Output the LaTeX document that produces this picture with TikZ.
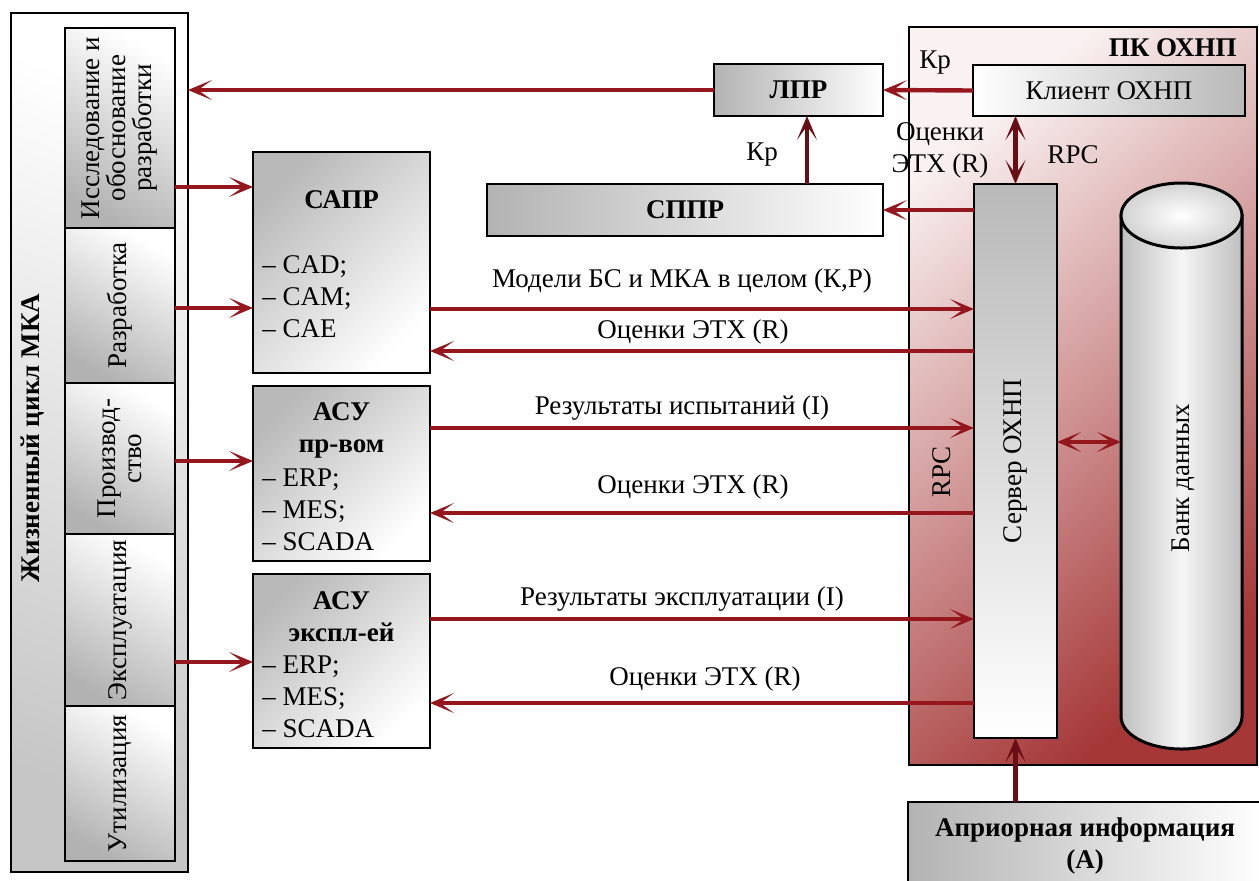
\documentclass[tikz,border=0pt]{standalone}
\usepackage{fontspec}
\setmainfont{Liberation Serif}
\usetikzlibrary{arrows.meta, positioning}
\definecolor{arrowred}{RGB}{150,22,30}
\definecolor{arrowdark}{RGB}{105,14,20}
\definecolor{pklight}{RGB}{250,242,242}
\definecolor{pkdark}{RGB}{165,55,55}

\tikzset{
  redtip/.tip={Stealth[length=12pt,width=10pt,inset=7pt]},
  box/.style={draw=black, line width=1pt, outer sep=0pt},
  stage/.style={box, minimum width=55pt, top color=white, bottom color=gray!60, shading angle=-30},
  stagetext/.style={rotate=90, align=center, font=\fontsize{13.5}{13}\selectfont},
  sysbox/.style={box, minimum width=88.5pt, top color=gray!55, bottom color=white, shading angle=45},
  arr/.style={line width=2.2pt, draw=arrowred, -redtip},
  varr/.style={arr, draw=arrowdark},
  darr/.style={arr, redtip-redtip}
}

\begin{document}
\fontsize{13.5}{16}\selectfont
\begin{tikzpicture}[x=0.5pt, y=-0.5pt]
\useasboundingbox (0,0) rectangle (1259,880);
\clip (0,0) rectangle (1259,880);

% life cycle
\node[box, minimum width=88.5pt, minimum height=429.5pt, top color=white, bottom color=gray!45, shading angle=-20] (frame) at (99.5,442.5) {};
\node[rotate=90, font=\bfseries] (frame-t) at (33,438) {Жизненный цикл МКА};

\node[stage, minimum height=100pt] (iss) at (120,128) {};
\node[stage, minimum height=77.5pt, below=0pt of iss] (raz) {};
\node[stage, minimum height=75.5pt, below=0pt of raz] (pro) {};
\node[stage, minimum height=86pt, below=0pt of pro] (exp) {};
\node[stage, minimum height=77.5pt, below=0pt of exp] (uti) {};

\node[stagetext] (iss-t) at (iss) {Исследование и\\обоснование\\разработки};
\node[stagetext] (raz-t) at (raz) {Разработка};
\node[stagetext] (pro-t) at (pro) {Производ-\\ство};
\node[stagetext] (exp-t) at (exp) {Эксплуатация};
\node[stagetext] (uti-t) at (uti) {Утилизация};

% systems
\node[sysbox, minimum height=110.5pt] (sapr) at (341.5,262.5) {};
\node[sysbox, minimum height=87.5pt, below=6.5pt of sapr] (asu1) {};
\node[sysbox, minimum height=87pt, below=6.5pt of asu1] (asu2) {};

\node[font=\bfseries] (sapr-t) at (341.5,200) {САПР};
\node[anchor=west, align=left] (sapr-l) at (253,296.5) {– CAD;\\– CAM;\\– CAE};
\node[font=\bfseries, align=center] (asu1-t) at (341.5,430) {АСУ\\пр-вом};
\node[anchor=west, align=left] (asu1-l) at (253,510) {– ERP;\\– MES;\\– SCADA};
\node[font=\bfseries, align=center] (asu2-t) at (341.5,616.5) {АСУ\\экспл-ей};
\node[anchor=west, align=left] (asu2-l) at (253,696.5) {– ERP;\\– MES;\\– SCADA};

% ПК ОХНП
\node[box, minimum width=174pt, minimum height=369pt, top color=pklight, bottom color=pkdark, shading angle=40] (pk) at (1083,396) {};
\node[font=\bfseries, anchor=east] (pk-t) at (1246,48) {ПК ОХНП};

\node[box, minimum width=84.5pt, minimum height=26pt, left color=gray!60, right color=white, font=\bfseries] (lpr) at (798.5,90) {ЛПР};
\node[box, minimum width=198pt, minimum height=26pt, left color=gray!60, right color=white, font=\bfseries] (sppr) at (685,210) {СППР};
\node[box, minimum width=136pt, minimum height=25.5pt, left color=white, right color=gray!55] (client) at (1109,90.5) {Клиент ОХНП};

\node[box, minimum width=41.5pt, minimum height=277pt, top color=gray!55, bottom color=white] (srv) at (1015.5,461) {};
\node[rotate=90] (srv-t) at (srv) {Сервер ОХНП};

% data bank
\node[minimum width=60.5pt, minimum height=283pt, inner sep=0pt, outer sep=0pt] (bank) at (1181.5,466) {};
\path[draw=black, line width=1.5pt, left color=gray!50, right color=gray!50, middle color=gray!8]
  ([yshift=-16.25pt]bank.north west) -- ([yshift=16.25pt]bank.south west)
  arc[start angle=180, end angle=360, x radius=30.25pt, y radius=16.25pt]
  -- ([yshift=-16.25pt]bank.north east) -- cycle;
\path[draw=black, line width=1.5pt, inner color=white, outer color=gray!35]
  ([yshift=-16.25pt]bank.north) ellipse[x radius=30.25pt, y radius=16.25pt];
\node[rotate=90] (bank-t) at (1183,478) {Банк данных};

\node[box, minimum width=177pt, minimum height=44pt, left color=gray!60, right color=white, font=\bfseries, align=center] (apr) at (1085,846) {Априорная информация\\(А)};

% labels
\node (kr1) at (935,63) {Кр};
\node (kr2) at (762,155) {Кр};
\node[align=center] (etx0) at (940,150) {Оценки\\ЭТХ (R)};
\node (rpc1) at (1073,155) {RPC};
\node[rotate=90] (rpc2) at (942,472) {RPC};
\node (m1) at (682,281) {Модели БС и МКА в целом (К,Р)};
\node (m2) at (693,332) {Оценки ЭТХ (R)};
\node (m3) at (682,408) {Результаты испытаний (I)};
\node (m4) at (693,487) {Оценки ЭТХ (R)};
\node (m5) at (682,599) {Результаты эксплуатации (I)};
\node (m6) at (705,679) {Оценки ЭТХ (R)};

% arrows
\draw[arr] (lpr.west) -- (frame.east |- lpr.west);
\draw[arr] (iss.east |- 0,187) -- (sapr.west |- 0,187);
\draw[arr] (raz.east |- 0,308) -- (sapr.west |- 0,308);
\draw[arr] (pro.east |- 0,461) -- (asu1.west |- 0,461);
\draw[arr] (exp.east |- 0,662) -- (asu2.west |- 0,662);
\draw[arr] (client.west) -- (lpr.east);
\draw[varr] (sppr.north -| 807,0) -- (lpr.south -| 807,0);
\draw[varr, redtip-redtip] (client.south -| srv) -- (srv.north);
\draw[arr] (srv.west |- sppr) -- (sppr.east);
\draw[arr] (sapr.east |- 0,309) -- (srv.west |- 0,309);
\draw[arr] (srv.west |- 0,351) -- (sapr.east |- 0,351);
\draw[arr] (asu1.east |- 0,428) -- (srv.west |- 0,428);
\draw[arr] (srv.west |- 0,513) -- (asu1.east |- 0,513);
\draw[arr] (asu2.east |- 0,619) -- (srv.west |- 0,619);
\draw[arr] (srv.west |- 0,703) -- (asu2.east |- 0,703);
\draw[darr] (srv.east |- 0,442) -- (bank.west |- 0,442);
\draw[varr] (apr.north -| srv) -- (srv.south);
\end{tikzpicture}
\end{document}
